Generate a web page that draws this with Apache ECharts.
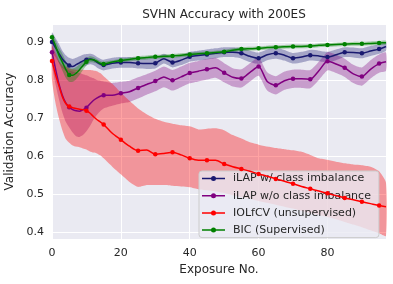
<!DOCTYPE html>
<html><head><meta charset="utf-8">
<script src="https://cdn.jsdelivr.net/npm/echarts@6/dist/echarts.min.js"></script>
<style>html,body{margin:0;padding:0;background:#fff}#c{width:393px;height:284px}</style>
</head><body><div id="c"></div>
<script>
// Exposure numbers (x positions of the samples)
const xs = [0,1,2,3,4,5,6,7,8,9,10,11,12,13,14,15,17.5,20,22.5,25,27.5,30,32.5,35,37.5,40,42.5,45,47.5,50,52.5,55,57.5,60,62.5,65,67.5,70,72.5,75,77.5,80,82.5,85,87.5,90,92.5,95,97];
const seriesNames = ['iLAP w/ class imbalance','iLAP w/o class imbalance','IOLfCV (unsupervised)','BIC (Supervised)'];
const xTicks = [0,20,40,60,80];
const yTicks = [0.4,0.5,0.6,0.7,0.8,0.9];

const ilapWith = [0.900,0.885,0.870,0.855,0.845,0.838,0.835,0.840,0.845,0.850,0.853,0.855,0.853,0.847,0.842,0.839,0.844,0.846,0.846,0.844,0.843,0.844,0.856,0.846,0.852,0.861,0.864,0.867,0.870,0.873,0.873,0.870,0.862,0.857,0.866,0.870,0.865,0.857,0.860,0.865,0.863,0.860,0.866,0.873,0.872,0.870,0.876,0.881,0.888];
const ilapWithLo = [0.875,0.860,0.845,0.833,0.825,0.818,0.815,0.822,0.828,0.834,0.838,0.841,0.839,0.833,0.828,0.825,0.830,0.832,0.832,0.830,0.829,0.830,0.843,0.833,0.839,0.848,0.851,0.854,0.857,0.860,0.860,0.856,0.847,0.842,0.852,0.856,0.851,0.843,0.846,0.851,0.849,0.846,0.852,0.860,0.859,0.857,0.863,0.869,0.877];
const ilapWithHi = [0.925,0.910,0.895,0.877,0.865,0.858,0.855,0.858,0.862,0.866,0.868,0.869,0.867,0.861,0.856,0.853,0.858,0.860,0.860,0.858,0.857,0.858,0.869,0.859,0.865,0.874,0.877,0.880,0.883,0.886,0.886,0.884,0.877,0.872,0.880,0.884,0.879,0.871,0.874,0.879,0.877,0.874,0.880,0.886,0.885,0.883,0.889,0.893,0.899];

const ilapWithout = [0.873,0.830,0.790,0.760,0.740,0.728,0.722,0.719,0.718,0.722,0.727,0.737,0.746,0.752,0.757,0.760,0.760,0.765,0.769,0.779,0.788,0.797,0.808,0.799,0.808,0.818,0.823,0.828,0.832,0.819,0.807,0.804,0.820,0.835,0.796,0.786,0.798,0.803,0.803,0.802,0.824,0.849,0.842,0.832,0.816,0.809,0.828,0.843,0.848];
const ilapWithoutLo = [0.840,0.790,0.750,0.715,0.690,0.675,0.662,0.652,0.650,0.655,0.665,0.678,0.695,0.708,0.718,0.725,0.732,0.738,0.742,0.751,0.761,0.770,0.781,0.772,0.781,0.791,0.796,0.801,0.806,0.794,0.783,0.780,0.796,0.811,0.772,0.762,0.774,0.779,0.779,0.778,0.800,0.825,0.818,0.808,0.792,0.785,0.804,0.819,0.824];
const ilapWithoutHi = [0.905,0.875,0.850,0.835,0.830,0.825,0.822,0.820,0.818,0.815,0.812,0.808,0.805,0.800,0.798,0.796,0.792,0.795,0.798,0.807,0.815,0.824,0.835,0.826,0.835,0.845,0.850,0.855,0.858,0.844,0.831,0.828,0.844,0.859,0.820,0.810,0.822,0.827,0.827,0.826,0.848,0.873,0.866,0.856,0.840,0.833,0.852,0.867,0.872];

const iolfcv = [0.850,0.815,0.785,0.756,0.738,0.730,0.727,0.725,0.723,0.722,0.719,0.713,0.704,0.696,0.690,0.683,0.660,0.643,0.626,0.614,0.616,0.605,0.607,0.610,0.603,0.594,0.589,0.589,0.589,0.579,0.572,0.566,0.560,0.553,0.547,0.540,0.534,0.527,0.520,0.514,0.508,0.502,0.496,0.490,0.485,0.480,0.475,0.470,0.467];
const iolfcvLo = [0.800,0.740,0.700,0.668,0.645,0.635,0.628,0.625,0.623,0.620,0.617,0.612,0.609,0.607,0.602,0.594,0.572,0.552,0.532,0.519,0.524,0.524,0.524,0.522,0.520,0.518,0.513,0.510,0.507,0.503,0.497,0.492,0.488,0.482,0.477,0.472,0.467,0.462,0.456,0.450,0.445,0.440,0.434,0.427,0.420,0.413,0.405,0.397,0.390];
const iolfcvHi = [0.890,0.870,0.850,0.840,0.835,0.830,0.828,0.827,0.827,0.827,0.826,0.826,0.825,0.823,0.818,0.810,0.790,0.767,0.745,0.725,0.710,0.698,0.690,0.685,0.681,0.678,0.670,0.672,0.673,0.668,0.655,0.646,0.636,0.630,0.625,0.621,0.618,0.615,0.611,0.603,0.594,0.590,0.585,0.581,0.578,0.576,0.572,0.560,0.530];

const bic = [0.912,0.890,0.865,0.847,0.828,0.813,0.812,0.818,0.827,0.838,0.848,0.854,0.853,0.849,0.844,0.842,0.847,0.851,0.854,0.857,0.859,0.861,0.862,0.863,0.865,0.867,0.869,0.870,0.872,0.874,0.878,0.881,0.882,0.883,0.885,0.886,0.887,0.888,0.888,0.889,0.891,0.892,0.893,0.894,0.895,0.895,0.896,0.897,0.898];
const bicLo = [0.902,0.875,0.845,0.825,0.806,0.795,0.795,0.802,0.813,0.826,0.838,0.846,0.846,0.843,0.838,0.836,0.842,0.846,0.849,0.852,0.854,0.856,0.857,0.858,0.860,0.862,0.864,0.865,0.867,0.869,0.873,0.876,0.877,0.878,0.880,0.881,0.882,0.883,0.883,0.884,0.886,0.887,0.888,0.889,0.890,0.890,0.891,0.892,0.893];
const bicHi = [0.922,0.905,0.885,0.869,0.850,0.832,0.830,0.834,0.841,0.850,0.858,0.862,0.860,0.855,0.850,0.848,0.852,0.856,0.859,0.862,0.864,0.866,0.867,0.868,0.870,0.872,0.874,0.875,0.877,0.879,0.883,0.886,0.887,0.888,0.890,0.891,0.892,0.893,0.893,0.894,0.896,0.897,0.898,0.899,0.900,0.900,0.901,0.902,0.903];

const colors = ['#191970','#800080','#ff0000','#008000'];
const bandColors = ['rgba(25,25,112,0.33)','rgba(128,0,128,0.33)','rgba(255,0,0,0.36)','rgba(0,128,0,0.33)'];
const means = [ilapWith, ilapWithout, iolfcv, bic];
const los = [ilapWithLo, ilapWithoutLo, iolfcvLo, bicLo];
const his = [ilapWithHi, ilapWithoutHi, iolfcvHi, bicHi];

const FONT = 'DejaVu Sans';
// legend glyph: a short line with a dot in the middle (same winding so the dot is solid)
const LEGEND_ICON = 'path://M0,4.25L23,4.25L23,5.75L0,5.75Z M9,5A2.5,2.5,0,1,1,14,5A2.5,2.5,0,1,1,9,5Z';

const series = [];
means.forEach((m, k) => {
  const lo = los[k], hi = his[k];
  series.push({
    type: 'custom', name: seriesNames[k] + ' band', silent: true, z: 1 + k * 0.01,
    data: xs.map((x, i) => [x, lo[i], hi[i]]),
    encode: { x: 0, y: [1, 2] },
    renderItem: function (params, api) {
      if (params.dataIndex !== 0) return null;
      const pts = [];
      for (let i = 0; i < xs.length; i++) pts.push(api.coord([xs[i], hi[i]]));
      for (let i = xs.length - 1; i >= 0; i--) pts.push(api.coord([xs[i], lo[i]]));
      return { type: 'polygon', shape: { points: pts, smooth: 0.2 }, style: { fill: bandColors[k] } };
    }
  });
});
means.forEach((m, k) => {
  series.push({
    type: 'line', name: seriesNames[k], z: 3 + k,
    data: xs.map((x, i) => [x, m[i]]),
    smooth: 0.25,
    symbol: 'circle',
    symbolSize: function (v) { return (v[0] % 5 === 0) ? 4.5 : 0; },
    showSymbol: true,
    lineStyle: { color: colors[k], width: 1.5 },
    itemStyle: { color: colors[k] },
    emphasis: { disabled: true },
    animation: false
  });
});

const chart = echarts.init(document.getElementById('c'), null, { renderer: 'canvas' });
chart.setOption({
  animation: false,
  textStyle: { fontFamily: FONT },
  title: {
    text: 'SVHN Accuracy with 200ES', left: 219, top: 4, textAlign: 'center',
    textStyle: { fontFamily: FONT, fontSize: 12, fontWeight: 'normal', color: '#262626' }
  },
  grid: { left: 52, right: 7, top: 24, bottom: 45, show: true, backgroundColor: '#eaeaf2', borderWidth: 0,
    containLabel: false, outerBoundsMode: 'none' },
  legend: {
    data: seriesNames.map((n, k) => ({ name: n, icon: LEGEND_ICON,
      itemStyle: { color: colors[k], borderWidth: 0, borderColor: colors[k] } })),
    orient: 'vertical', left: 199, top: 171,
    itemWidth: 23, itemHeight: 5, itemGap: 6.2, symbolKeepAspect: false,
    padding: [2, 8, 2, 3],
    backgroundColor: 'rgba(234,234,242,0.8)', borderColor: '#cccccc', borderWidth: 1, borderRadius: 3,
    textStyle: { fontFamily: FONT, fontSize: 11, color: '#262626', padding: [0, 0, 0, 3] }
  },
  xAxis: {
    type: 'value', min: 0, max: 97, interval: 20,
    name: 'Exposure No.', nameLocation: 'middle', nameGap: 25,
    nameTextStyle: { fontFamily: FONT, fontSize: 12, color: '#262626' },
    axisLine: { show: false }, axisTick: { show: false },
    axisLabel: { fontFamily: FONT, fontSize: 11, color: '#262626', margin: 9, showMaxLabel: false,
      formatter: v => xTicks.includes(v) ? String(v) : '' },
    splitLine: { show: true, lineStyle: { color: '#ffffff', width: 1 } }
  },
  yAxis: {
    type: 'value', min: 0.382, max: 0.947,
    name: 'Validation Accuracy', nameLocation: 'middle', nameGap: 34,
    nameTextStyle: { fontFamily: FONT, fontSize: 12, color: '#262626' },
    axisLine: { show: false }, axisTick: { show: false },
    axisLabel: { fontFamily: FONT, fontSize: 11, color: '#262626', margin: 8, showMinLabel: false, showMaxLabel: false,
      formatter: v => { const t = yTicks.find(t => Math.abs(t - v) < 1e-6); return t !== undefined ? t.toFixed(1) : ''; } },
    splitLine: { show: true, lineStyle: { color: '#ffffff', width: 1 } }
  },
  series: series
});
</script></body></html>
